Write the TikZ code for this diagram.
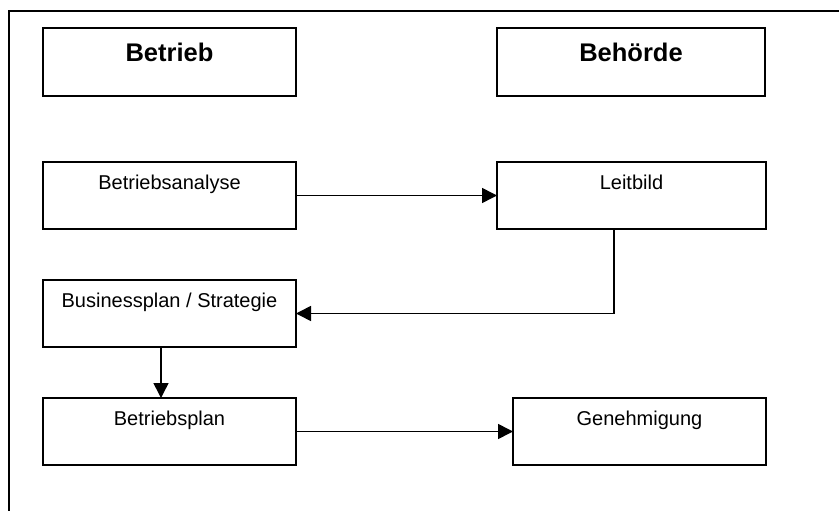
\documentclass[tikz,border=0pt]{standalone}
\usepackage{fontspec}
\setmainfont{Liberation Sans}
\usetikzlibrary{arrows.meta, positioning}
\tikzset{
x=1pt, y=-1pt, % one unit is one pixel of the page
box/.style={draw, line width=2pt, inner sep=0pt, outer sep=0pt, minimum width=253pt,
  text height=27pt, text depth=40pt, font=\fontsize{20}{24}\selectfont}, % text sits at the top
head/.style={box, text height=33.5pt, text depth=34.5pt,
  font=\fontsize{25.5}{30}\selectfont\bfseries}, % column titles
flow/.style={-{Triangle[length=15pt, width=15pt]}, line width=1.6pt}, % makes the arrow heads bold
}

\begin{document}
\begin{tikzpicture}
  \useasboundingbox (0,0) rectangle (839,511);
  \clip (0,0) rectangle (839,511);
  \draw[line width=2.2pt] (9,11) rectangle (860,530);

  \node[head] (betrieb) at (169.5,62) {Betrieb};
  \node[head, minimum width=268pt, right=201pt of betrieb] (behoerde) {Behörde};
  \node[box, below=66pt of betrieb] (analyse) {Betriebsanalyse};
  \node[box, minimum width=269pt, right=201pt of analyse] (leitbild) {Leitbild};
  \node[box, below=51pt of analyse] (strategie) {Businessplan / Strategie};
  \node[box, below=51pt of strategie] (bplan) {Betriebsplan};
  \node[box, right=217pt of bplan] (genehmigung) {Genehmigung};

  \draw[flow] (analyse) -- (leitbild);
  \draw[flow] ([xshift=-17.5pt]leitbild.south) |- (strategie.east);
  \draw[flow] ([xshift=-8.5pt]strategie.south) -- ([xshift=-8.5pt]bplan.north);
  \draw[flow] (bplan) -- (genehmigung);
\end{tikzpicture}
\end{document}
